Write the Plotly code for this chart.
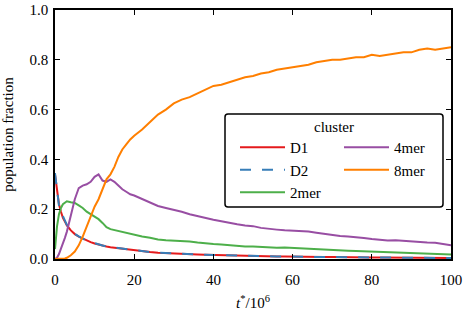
import plotly.graph_objects as go

t = [0, 0.5, 1, 1.5, 2, 2.5, 3, 4, 5, 6, 7, 8, 9, 10, 11, 12, 13, 14, 15, 16, 17, 18, 19, 20,
     22, 24, 26, 28, 30, 32, 34, 36, 38, 40, 42, 44, 46, 48, 50, 52, 54, 56, 58, 60,
     62, 64, 66, 68, 70, 72, 74, 76, 78, 80, 82, 84, 86, 88, 90, 92, 94, 96, 98, 100]

d1 = [0.34, 0.28, 0.22, 0.19, 0.165, 0.15, 0.135, 0.115, 0.10, 0.09, 0.082, 0.075, 0.068, 0.062,
      0.057, 0.053, 0.05, 0.047, 0.045, 0.042, 0.04, 0.038, 0.036, 0.034,
      0.031, 0.028, 0.025, 0.023, 0.022, 0.02, 0.019, 0.018, 0.017, 0.016, 0.015, 0.014, 0.013,
      0.013, 0.012, 0.011, 0.011, 0.010, 0.010, 0.009, 0.009, 0.009, 0.008, 0.008, 0.008, 0.007,
      0.007, 0.007, 0.007, 0.006, 0.006, 0.006, 0.006, 0.005, 0.005, 0.005, 0.005, 0.005, 0.005, 0.004]

d2 = [0.345, 0.27, 0.215, 0.19, 0.17, 0.152, 0.137, 0.117, 0.101, 0.091, 0.081, 0.074, 0.069, 0.063,
      0.058, 0.054, 0.05, 0.048, 0.045, 0.043, 0.041, 0.038, 0.036, 0.035,
      0.031, 0.028, 0.026, 0.024, 0.022, 0.02, 0.019, 0.018, 0.017, 0.016, 0.015, 0.014, 0.013,
      0.013, 0.012, 0.011, 0.011, 0.010, 0.010, 0.009, 0.009, 0.009, 0.008, 0.008, 0.008, 0.007,
      0.007, 0.007, 0.007, 0.006, 0.006, 0.006, 0.006, 0.005, 0.005, 0.005, 0.005, 0.005, 0.005, 0.004]

mer2 = [0.04, 0.13, 0.18, 0.205, 0.22, 0.228, 0.232, 0.228, 0.225, 0.215, 0.205, 0.19, 0.18, 0.17,
        0.16, 0.145, 0.128, 0.12, 0.116, 0.112, 0.108, 0.104, 0.10, 0.097,
        0.09, 0.085, 0.078, 0.075, 0.074, 0.072, 0.07, 0.066, 0.062, 0.06, 0.058, 0.055, 0.053,
        0.05, 0.05, 0.048, 0.046, 0.045, 0.046, 0.044, 0.042, 0.04, 0.038, 0.036, 0.035, 0.034,
        0.033, 0.032, 0.031, 0.029, 0.028, 0.028, 0.027, 0.026, 0.025, 0.024, 0.023, 0.022, 0.02, 0.018]

mer4 = [0.0, 0.005, 0.02, 0.04, 0.06, 0.085, 0.11, 0.17, 0.24, 0.285, 0.295, 0.30, 0.31, 0.33,
        0.34, 0.315, 0.31, 0.32, 0.31, 0.295, 0.28, 0.27, 0.26, 0.255,
        0.24, 0.225, 0.213, 0.205, 0.198, 0.19, 0.18, 0.172, 0.165, 0.158, 0.152, 0.145, 0.14,
        0.135, 0.132, 0.125, 0.12, 0.118, 0.115, 0.113, 0.11, 0.11, 0.105, 0.1, 0.095, 0.092,
        0.09, 0.088, 0.084, 0.08, 0.076, 0.074, 0.075, 0.072, 0.07, 0.068, 0.066, 0.065, 0.06, 0.055]

mer8 = [0.0, 0.0, 0.0, 0.0, 0.0, 0.002, 0.005, 0.015, 0.03, 0.055, 0.09, 0.13, 0.175, 0.21,
        0.24, 0.28, 0.32, 0.34, 0.37, 0.41, 0.44, 0.46, 0.48, 0.495,
        0.52, 0.55, 0.58, 0.6, 0.625, 0.64, 0.65, 0.665, 0.68, 0.695, 0.7, 0.71, 0.72,
        0.73, 0.735, 0.745, 0.75, 0.76, 0.765, 0.77, 0.775, 0.78, 0.79, 0.795, 0.80, 0.80,
        0.805, 0.81, 0.81, 0.82, 0.815, 0.82, 0.825, 0.83, 0.83, 0.84, 0.845, 0.84, 0.845, 0.85]

names = ["D1", "D2", "2mer", "4mer", "8mer"]
colors = ["#e41a1c", "#377eb8", "#4daf4a", "#984ea3", "#ff7f00"]
x_ticks = [0, 20, 40, 60, 80, 100]
y_ticks = [0.0, 0.2, 0.4, 0.6, 0.8, 1.0]

FONT = "Liberation Serif"
FS = 15
W, H = 466, 311
ML, MR, MT, MB = 55, 15, 10, 52
PW, PH = W - ML - MR, H - MT - MB

def px_x(p):
    return (p - ML) / PW

def px_y(p):
    return (H - MB - p) / PH

fig = go.Figure()
series = [d1, d2, mer2, mer4, mer8]
legends = ["legend", "legend", "legend", "legend2", "legend2"]
for name, vals, col, lg in zip(names, series, colors, legends):
    fig.add_trace(go.Scatter(
        x=t, y=vals, mode="lines", name=name, legend=lg,
        line=dict(color=col, width=2, dash="11px,11px" if name == "D2" else "solid"),
    ))

axis_common = dict(
    showgrid=False, zeroline=False, showline=True, linecolor="black", linewidth=1.5,
    mirror="ticks", ticks="inside", ticklen=5, tickwidth=1, tickcolor="black",
    tickfont=dict(family=FONT, size=FS, color="black"), automargin=False,
)

# legend box with rounded corners
x0, x1 = px_x(225), px_x(443)
y0, y1 = px_y(207), px_y(114)
rx, ry = 3 / PW, 3 / PH
path = (f"M {x0+rx},{y0} L {x1-rx},{y0} Q {x1},{y0} {x1},{y0+ry} "
        f"L {x1},{y1-ry} Q {x1},{y1} {x1-rx},{y1} L {x0+rx},{y1} Q {x0},{y1} {x0},{y1-ry} "
        f"L {x0},{y0+ry} Q {x0},{y0} {x0+rx},{y0} Z")

fig.update_layout(
    width=W, height=H,
    margin=dict(l=ML, r=MR, t=MT, b=MB, autoexpand=False),
    plot_bgcolor="white", paper_bgcolor="white",
    font=dict(family=FONT, size=FS, color="black"),
    xaxis=dict(range=[0, 100], tickvals=x_ticks, ticklabelstandoff=6,
               title=dict(text="<i>t</i><sup>*</sup>/10<sup>6</sup>", font=dict(family=FONT, size=FS)),
               **axis_common),
    yaxis=dict(range=[0, 1], tickvals=y_ticks, tickformat=".1f", ticklabelstandoff=2,
               title=dict(text="population fraction", font=dict(family=FONT, size=FS)),
               **axis_common),
    shapes=[dict(type="path", xref="paper", yref="paper", path=path, layer="above",
                 fillcolor="white", line=dict(color="black", width=1.5))],
    annotations=[dict(text="cluster", xref="paper", yref="paper", x=px_x(334), y=px_y(127),
                      showarrow=False, font=dict(family=FONT, size=FS), xanchor="center", yanchor="middle")],
    legend=dict(x=px_x(235), y=px_y(131), xanchor="left", yanchor="top", bgcolor="rgba(0,0,0,0)",
                borderwidth=0, itemwidth=45, font=dict(family=FONT, size=FS)),
    legend2=dict(x=px_x(339), y=px_y(131), xanchor="left", yanchor="top", bgcolor="rgba(0,0,0,0)",
                 borderwidth=0, itemwidth=45, font=dict(family=FONT, size=FS)),
)

fig.write_html("out.html", config={"displayModeBar": False},
               post_script="document.body.style.margin='0';document.body.style.padding='0';")
